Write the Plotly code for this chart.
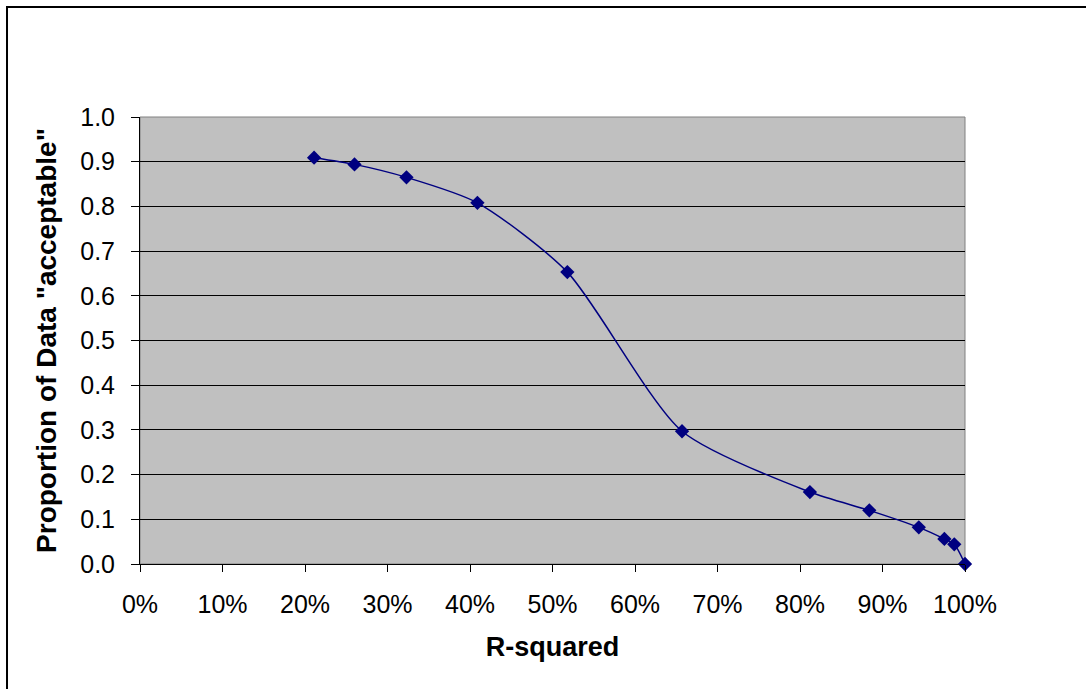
import plotly.graph_objects as go

r_squared = [0.211, 0.260, 0.323, 0.409, 0.518, 0.657, 0.812, 0.884, 0.944, 0.975, 0.987, 1.000]
proportion = [0.909, 0.894, 0.865, 0.808, 0.653, 0.297, 0.161, 0.120, 0.082, 0.056, 0.044, 0.000]
x_ticks = [0, 0.1, 0.2, 0.3, 0.4, 0.5, 0.6, 0.7, 0.8, 0.9, 1.0]
y_ticks = [0, 0.1, 0.2, 0.3, 0.4, 0.5, 0.6, 0.7, 0.8, 0.9, 1.0]

navy = "#000080"
fig = go.Figure()
fig.add_trace(go.Scatter(
    x=r_squared, y=proportion, mode="lines+markers",
    line=dict(color=navy, width=1.5, shape="spline", smoothing=0.7),
    marker=dict(symbol="diamond", size=11, color=navy),
    cliponaxis=False, showlegend=False,
))

font = "Liberation Sans, Arial, sans-serif"
fig.update_layout(
    width=1086, height=689,
    margin=dict(l=140, r=121, t=117, b=125),
    paper_bgcolor="white", plot_bgcolor="#C0C0C0",
    font=dict(family=font, size=25, color="black"),
    xaxis=dict(
        range=[0, 1], tickvals=x_ticks, tickformat=".0%",
        tickfont=dict(size=25),
        showgrid=False, zeroline=False, showline=True, linecolor="black", linewidth=1,
        ticks="outside", ticklen=7, tickcolor="black", ticklabelstandoff=11,
        title=dict(text="<b>R-squared</b>", font=dict(size=27), standoff=20),
    ),
    yaxis=dict(
        range=[0, 1], tickvals=y_ticks, tickformat=".1f",
        tickfont=dict(size=25),
        showgrid=True, gridcolor="black", gridwidth=1, zeroline=False,
        showline=True, linecolor="black", linewidth=1,
        ticks="outside", ticklen=8, tickcolor="black", ticklabelstandoff=11,
        title=dict(text='<b>Proportion of Data "acceptable"</b>', font=dict(size=28), standoff=15),
    ),
    shapes=[
        dict(type="rect", xref="paper", yref="paper", x0=0, x1=1, y0=0, y1=1,
             line=dict(color="#808080", width=1), layer="below"),
        dict(type="rect", xref="paper", yref="paper", x0=-0.1612, x1=1.16, y0=-0.30, y1=1.246,
             line=dict(color="black", width=2)),
    ],
)
fig.write_html("out.html")
